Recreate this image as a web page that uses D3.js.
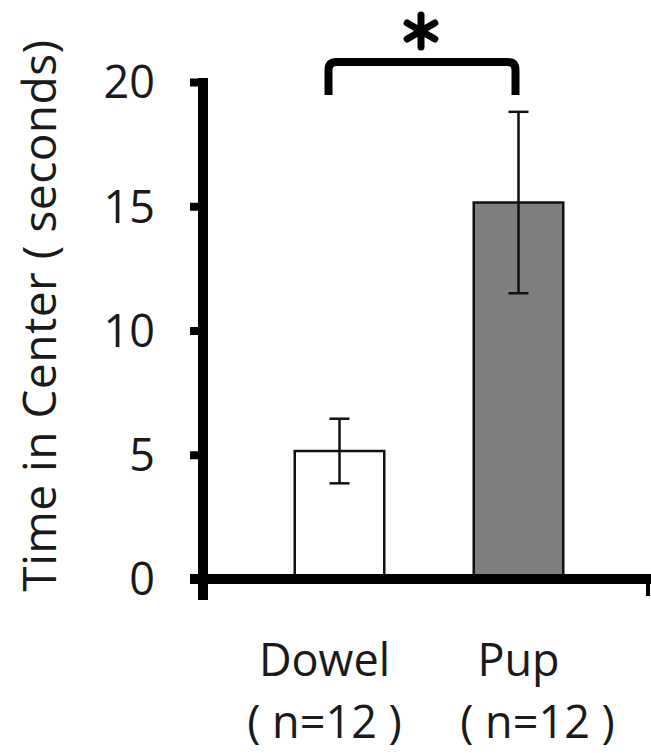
<!DOCTYPE html>
<html>
<head>
<meta charset="utf-8">
<script src="https://cdn.jsdelivr.net/npm/d3@7"></script>
<style>
  body { margin: 0; background: #fff; }
  svg { display: block; }
  text { font-family: "Open Sans", sans-serif; fill: #1a1a1a; }
</style>
</head>
<body>
<svg id="chart" width="651" height="753"></svg>
<script>
const groups = ['Dowel', 'Pup'];
const groupN = ['( n=12 )', '( n=12 )'];
const means = [5.15, 15.15];
const errors = [1.3, 3.65];
const fills = ['#ffffff', '#7f7f7f'];
const yTicks = [0, 5, 10, 15, 20];
const yLabel = 'Time in Center ( seconds)';

const svg = d3.select('#chart');

const x = d3.scaleBand().domain(groups).range([250, 608]).paddingInner(0.5).paddingOuter(0.25);
const y = d3.scaleLinear().domain([0, 20]).range([579, 82]);

const axisX = 203;

// y axis: thick spine and stubby ticks
const yAxis = svg.append('g')
    .attr('transform', `translate(${axisX},0)`)
    .call(d3.axisLeft(y).tickValues(yTicks).tickSize(13).tickPadding(35));
yAxis.select('.domain').remove();
yAxis.selectAll('.tick line')
    .attr('stroke', '#000')
    .attr('stroke-width', 8);
yAxis.selectAll('.tick text')
    .style('font-family', '"Open Sans", sans-serif')
    .style('font-size', '45px')
    .attr('fill', '#1a1a1a')
    .attr('dy', '0.35em');
yAxis.append('line')
    .attr('x1', 0).attr('x2', 0)
    .attr('y1', y(20) - 4).attr('y2', y(0) + 21)
    .attr('stroke', '#000')
    .attr('stroke-width', 10);

// bars
svg.selectAll('.bar')
    .data(groups)
    .join('rect')
    .attr('class', 'bar')
    .attr('x', d => x(d))
    .attr('y', (d, i) => y(means[i]))
    .attr('width', x.bandwidth())
    .attr('height', (d, i) => y(0) - y(means[i]))
    .attr('fill', (d, i) => fills[i])
    .attr('stroke', '#111')
    .attr('stroke-width', 2.5);

// error bars
const eb = svg.selectAll('.err')
    .data(groups)
    .join('g')
    .attr('class', 'err')
    .attr('transform', d => `translate(${x(d) + x.bandwidth() / 2},0)`);
eb.append('line')
    .attr('y1', (d, i) => y(means[i] + errors[i]))
    .attr('y2', (d, i) => y(means[i] - errors[i]))
    .attr('stroke', '#111').attr('stroke-width', 2.5);
eb.selectAll('.cap')
    .data((d, i) => [means[i] + errors[i], means[i] - errors[i]])
    .join('line')
    .attr('class', 'cap')
    .attr('x1', -10).attr('x2', 10)
    .attr('y1', v => y(v)).attr('y2', v => y(v))
    .attr('stroke', '#111').attr('stroke-width', 2.5);

// x axis baseline
svg.append('line')
    .attr('x1', axisX - 13).attr('x2', 651)
    .attr('y1', y(0)).attr('y2', y(0))
    .attr('stroke', '#000').attr('stroke-width', 10);
svg.append('line')
    .attr('x1', 648).attr('x2', 648)
    .attr('y1', y(0)).attr('y2', y(0) + 17)
    .attr('stroke', '#000').attr('stroke-width', 4);

// category labels
const labelShift = [-15, 0];
const nShift = [-15, 19];
svg.selectAll('.cat')
    .data(groups)
    .join('text')
    .attr('class', 'cat')
    .attr('x', (d, i) => x(d) + x.bandwidth() / 2 + labelShift[i])
    .attr('y', 676)
    .attr('text-anchor', 'middle')
    .style('font-size', '45px')
    .text(d => d);
svg.selectAll('.ncount')
    .data(groups)
    .join('text')
    .attr('class', 'ncount')
    .attr('x', (d, i) => x(d) + x.bandwidth() / 2 + nShift[i])
    .attr('y', 738)
    .attr('text-anchor', 'middle')
    .style('font-size', '45px')
    .attr('xml:space', 'preserve')
    .text((d, i) => groupN[i]);

// y label
svg.append('text')
    .attr('transform', `translate(56,${(y(0) + y(20)) / 2 - 15}) rotate(-90)`)
    .attr('text-anchor', 'middle')
    .attr('xml:space', 'preserve')
    .style('font-size', '46px')
    .style('letter-spacing', '0.5px')
    .text(yLabel);

// significance bracket
const bx1 = x('Dowel') + x.bandwidth() / 2 - 11;
const bx2 = x('Pup') + x.bandwidth() / 2 - 3;
const bTop = 62, bLeg = 95, r = 8;
svg.append('path')
    .attr('d', `M${bx1},${bLeg} V${bTop + r} Q${bx1},${bTop} ${bx1 + r},${bTop} H${bx2 - r} Q${bx2},${bTop} ${bx2},${bTop + r} V${bLeg}`)
    .attr('fill', 'none')
    .attr('stroke', '#000')
    .attr('stroke-width', 8);

// asterisk
const ax = (bx1 + bx2) / 2 - 1, ay = 31, ar = 16;
svg.append('g')
    .attr('transform', `translate(${ax},${ay})`)
    .selectAll('line')
    .data([90, 30, -30])
    .join('line')
    .attr('x1', a => -ar * Math.cos(a * Math.PI / 180))
    .attr('y1', a => -ar * Math.sin(a * Math.PI / 180))
    .attr('x2', a => ar * Math.cos(a * Math.PI / 180))
    .attr('y2', a => ar * Math.sin(a * Math.PI / 180))
    .attr('stroke', '#000')
    .attr('stroke-width', 7)
    .attr('stroke-linecap', 'round');
</script>
</body>
</html>
